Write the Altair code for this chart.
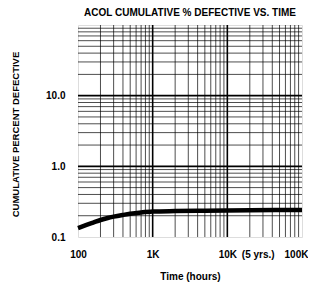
import altair as alt
import pandas as pd

# Curve
hours = [100, 130, 160, 200, 250, 300, 400, 500, 700, 1000, 2000, 5000, 10000, 20000, 50000, 100000]
pct = [0.134, 0.148, 0.160, 0.174, 0.186, 0.194, 0.205, 0.213, 0.222, 0.229, 0.233, 0.236, 0.238, 0.240, 0.241, 0.242]

x_ticks = [100, 1000, 10000, 100000]
x_tick_labels = ["100", "1K", "10K", "100K"]
y_ticks = [0.1, 1, 10]
y_tick_labels = ["0.1", "1.0", "10.0"]
mults = [2, 3, 4, 5, 6, 7, 8, 9]
x_decades = [100, 1000, 10000]
y_decades = [0.1, 1, 10]
x_major = [1000, 10000]
y_major = [1, 10]
note_x = [43800]
note_text = ["(5 yrs.)"]

x_minor = [d * m for d in x_decades for m in mults]
y_minor = [round(d * m, 6) for d in y_decades for m in mults]

FONT = "Liberation Sans"
FS = 10
xs = alt.Scale(type="log", domain=[100, 100000], nice=False)
ys = alt.Scale(type="log", domain=[0.1, 100], nice=False)

x_label_expr = "{" + ",".join(f"'{v}':'{l}'" for v, l in zip(x_ticks, x_tick_labels)) + "}[''+datum.value]"
y_label_expr = "{" + ",".join(f"'{v}':'{l}'" for v, l in zip(y_ticks, y_tick_labels)) + "}[''+datum.value]"

x_axis = alt.Axis(
    values=x_ticks, labelExpr=x_label_expr, title="Time (hours)", grid=False,
    ticks=False, domain=False, labelPadding=12, titlePadding=12,
    labelOffset={"condition": {"test": "datum.value == 100000", "value": -6}, "value": 0},
    labelFont=FONT, labelFontSize=FS, labelFontWeight="bold", labelColor="black",
    titleFont=FONT, titleFontSize=FS, titleFontWeight="bold", titleColor="black",
    labelFlush=False, labelOverlap=False)
y_axis = alt.Axis(
    values=y_ticks, labelExpr=y_label_expr, title="CUMULATIVE PERCENT DEFECTIVE", grid=False,
    ticks=False, domain=False, labelPadding=13,
    labelFont=FONT, labelFontSize=FS, labelFontWeight="bold", labelColor="black",
    titleFont=FONT, titleFontSize=9.5, titleFontWeight="bold", titleColor="black",
    titleAngle=270, titleX=-63, titleY=109, titleAlign="center", titleBaseline="middle",
    labelFlush=False, labelOverlap=False)

vminor = alt.Chart(pd.DataFrame({"v": x_minor})).mark_rule(color="black", strokeWidth=0.7).encode(
    x=alt.X("v:Q", scale=xs, axis=x_axis))
vmajor = alt.Chart(pd.DataFrame({"v": x_major})).mark_rule(color="black", strokeWidth=1.6).encode(
    x=alt.X("v:Q", scale=xs, axis=x_axis))
hminor = alt.Chart(pd.DataFrame({"v": y_minor})).mark_rule(color="black", strokeWidth=0.7).encode(
    y=alt.Y("v:Q", scale=ys, axis=y_axis))
hmajor = alt.Chart(pd.DataFrame({"v": y_major})).mark_rule(color="black", strokeWidth=1.6).encode(
    y=alt.Y("v:Q", scale=ys, axis=y_axis))

curve = alt.Chart(pd.DataFrame({"h": hours, "p": pct})).mark_line(
    color="black", strokeWidth=4.5, interpolate="monotone").encode(
    x=alt.X("h:Q", scale=xs, axis=x_axis),
    y=alt.Y("p:Q", scale=ys, axis=y_axis),
)

note = alt.Chart(pd.DataFrame({"t": note_x, "label": note_text})).mark_text(
    font=FONT, fontSize=FS, fontWeight="bold", color="black", dx=-17, baseline="middle").encode(
    x=alt.X("t:Q", scale=xs, axis=x_axis), y=alt.value(230), text="label:N")

chart = alt.layer(vminor, hminor, vmajor, hmajor, curve, note).properties(
    width=224, height=212,
    title=alt.Title("ACOL CUMULATIVE % DEFECTIVE VS. TIME", font=FONT, fontSize=10,
                    fontWeight="bold", color="black", anchor="middle", offset=6),
    autosize=alt.AutoSizeParams(type="none"),
    padding={"left": 70, "top": 17, "right": 6, "bottom": 45},
).configure_view(stroke="black", strokeWidth=1.6).configure(background="white")

chart.save("out.html", embed_options={"renderer": "svg", "actions": False})
